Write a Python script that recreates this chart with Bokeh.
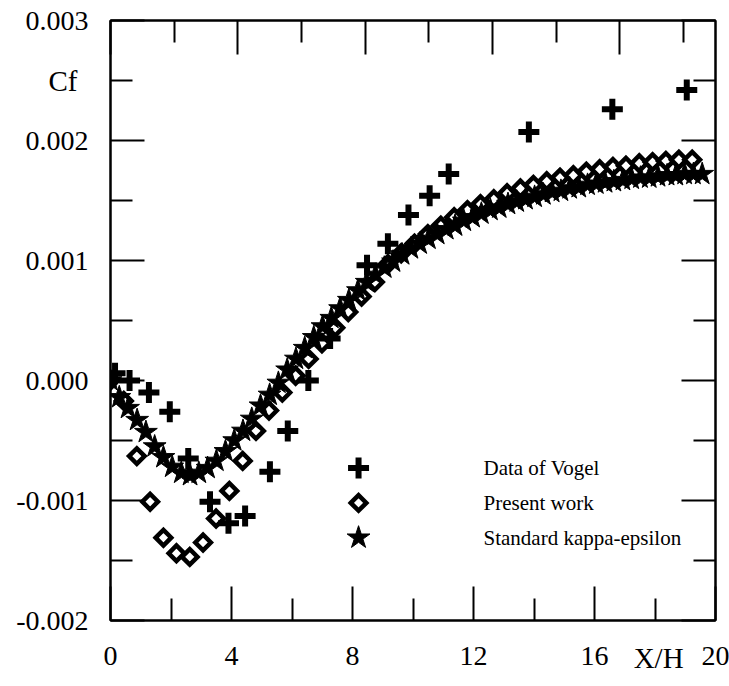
import math

from bokeh.embed import file_html
from bokeh.models import FixedTicker, Label, LinearAxis, Range1d
from bokeh.plotting import figure
from bokeh.resources import INLINE

# Skin friction coefficient Cf along the wall, X/H downstream of the step
vogel_x = [0.15, 0.63, 1.27, 1.96, 2.57, 3.29, 3.90, 4.45, 5.27, 5.86,
           6.54, 7.26, 8.48, 9.17, 9.85, 10.55, 11.18, 13.83, 16.59, 19.05]
vogel_cf = [0.00006, 0.0, -0.00010, -0.00026, -0.00065, -0.00101, -0.00119,
            -0.00113, -0.00076, -0.00042, 0.0, 0.00035, 0.00096, 0.00114,
            0.00138, 0.00154, 0.00172, 0.00207, 0.00226, 0.00242]

present_x = [0.00, 0.44, 0.87, 1.31, 1.75, 2.18, 2.62, 3.06, 3.49, 3.93,
             4.37, 4.81, 5.24, 5.68, 6.12, 6.55, 6.99, 7.43, 7.86, 8.30,
             8.74, 9.17, 9.61, 10.05, 10.49, 10.92, 11.36, 11.80, 12.23, 12.67,
             13.11, 13.55, 13.98, 14.42, 14.86, 15.30, 15.73, 16.17, 16.61, 17.04,
             17.48, 17.92, 18.36, 18.79, 19.23]
present_cf = [0.0, -0.00017, -0.00063, -0.00101, -0.00131, -0.00144, -0.00147,
              -0.00135, -0.00115, -0.00092, -0.00067, -0.00042, -0.00025,
              -0.00010, 0.00004, 0.00018, 0.00031, 0.00044, 0.00057, 0.00070,
              0.00082, 0.00097, 0.00106, 0.00114, 0.00122, 0.00129, 0.00136,
              0.00142, 0.00147, 0.00151, 0.00156, 0.00160, 0.00163, 0.00166,
              0.00169, 0.00171, 0.00174, 0.00176, 0.00178, 0.00179, 0.00181,
              0.00182, 0.00183, 0.00184, 0.00184]

keps_x = [0.00, 0.29, 0.58, 0.88, 1.17, 1.46, 1.75, 2.04, 2.34, 2.63,
          2.92, 3.21, 3.50, 3.80, 4.09, 4.38, 4.67, 4.96, 5.26, 5.55,
          5.84, 6.13, 6.42, 6.72, 7.01, 7.30, 7.59, 7.88, 8.18, 8.47,
          8.76, 9.05, 9.34, 9.64, 9.93, 10.22, 10.51, 10.80, 11.10, 11.39,
          11.68, 11.97, 12.26, 12.56, 12.85, 13.14, 13.43, 13.72, 14.02, 14.31,
          14.60, 14.89, 15.18, 15.48, 15.77, 16.06, 16.35, 16.64, 16.94, 17.23,
          17.52, 17.81, 18.10, 18.40, 18.69, 18.98, 19.27, 19.56]
keps_cf = [0.0, -0.00014, -0.00023, -0.00033, -0.00043, -0.00055, -0.00064,
           -0.00072, -0.00077, -0.00079, -0.00077, -0.00073, -0.00067,
           -0.00059, -0.00050, -0.00042, -0.00032, -0.00021, -0.00012,
           -0.00002, 0.00009, 0.00018, 0.00027, 0.00036, 0.00045, 0.00052,
           0.00060, 0.00067, 0.00075, 0.00082, 0.00088, 0.00094, 0.00099,
           0.00105, 0.00110, 0.00114, 0.00118, 0.00122, 0.00126, 0.00129,
           0.00133, 0.00136, 0.00139, 0.00142, 0.00144, 0.00147, 0.00149,
           0.00151, 0.00153, 0.00155, 0.00157, 0.00158, 0.00160, 0.00161,
           0.00163, 0.00164, 0.00165, 0.00166, 0.00167, 0.00168, 0.00169,
           0.00169, 0.00170, 0.00171, 0.00171, 0.00172, 0.00172, 0.00172]

x_ticks = [0, 4, 8, 12, 16, 20]
x_minor = [2, 6, 10, 14, 18]
x_tick_labels = ["0", "4", "8", "12", "16", "20"]
top_ticks = [0, 4, 8, 12, 16]
top_minor = [2, 6, 10, 14, 18]
y_ticks = [-0.002, -0.001, 0.0, 0.001, 0.002, 0.003]
y_minor = [-0.0015, -0.0005, 0.0005, 0.0015, 0.0025]
y_tick_labels = ["-0.002", "-0.001", "0.000", "0.001", "0.002", "0.003"]
series_names = ["Data of Vogel", "Present work", "Standard kappa-epsilon"]

# where the axis titles sit along their axes
x_title, x_title_at = "X/H", 18.12
y_title, y_title_at = "Cf", 0.0025

FONT = "Liberation Serif"

p = figure(width=729, height=686,
           x_range=Range1d(0, 20), y_range=Range1d(-0.002, 0.003),
           output_backend="svg", toolbar_location=None,
           x_axis_location=None, y_axis_location=None,
           min_border_left=110, min_border_right=14,
           min_border_top=20, min_border_bottom=66)
p.extra_x_ranges = {"top": Range1d(0, 19)}
p.grid.visible = False
p.background_fill_color = "white"
p.border_fill_color = "white"
p.outline_line_color = "black"
p.outline_line_width = 2


def frame_axis(axis, ticks, minor, labels):
    axis.ticker = FixedTicker(ticks=ticks, minor_ticks=minor)
    axis.major_label_overrides = dict(zip(ticks, labels))
    axis.axis_line_color = "black"
    axis.axis_line_width = 2
    axis.major_tick_line_color = "black"
    axis.minor_tick_line_color = "black"
    axis.major_tick_line_width = 2
    axis.minor_tick_line_width = 2
    axis.major_tick_in = 34
    axis.major_tick_out = 0
    axis.minor_tick_in = 22
    axis.minor_tick_out = 0
    axis.major_label_text_font = FONT
    axis.major_label_text_color = "black"
    axis.major_label_text_font_size = "28px"
    return axis


def title_axis(axis, at, text, standoff, pad):
    # a bare axis stacked outside the numbered one; the negative standoff
    # pulls its single label back next to the frame
    axis.ticker = FixedTicker(ticks=[at], minor_ticks=[])
    axis.major_label_overrides = {at: text}
    axis.axis_line_color = None
    axis.major_tick_line_color = None
    axis.minor_tick_line_color = None
    axis.major_tick_in = 0
    axis.major_tick_out = 0
    axis.minor_tick_in = 0
    axis.minor_tick_out = 0
    axis.major_label_standoff = standoff
    axis.major_label_text_font = FONT
    axis.major_label_text_color = "black"
    axis.major_label_text_font_size = "29px"
    axis.axis_label = " "
    axis.axis_label_standoff = pad
    axis.axis_label_text_font_size = "1px"
    return axis


bottom = frame_axis(LinearAxis(), x_ticks, x_minor, x_tick_labels)
bottom.major_label_standoff = 26
p.add_layout(bottom, "below")

left = frame_axis(LinearAxis(), y_ticks, y_minor, y_tick_labels)
left.major_label_standoff = 22
p.add_layout(left, "left")

top = frame_axis(LinearAxis(x_range_name="top"), top_ticks, top_minor,
                 [""] * len(top_ticks))
top.major_label_text_font_size = "1px"
top.major_label_standoff = 0
p.add_layout(top, "above")

right = frame_axis(LinearAxis(), y_ticks, y_minor, [""] * len(y_ticks))
right.major_label_text_font_size = "1px"
right.major_label_standoff = 0
p.add_layout(right, "right")

p.add_layout(title_axis(LinearAxis(), x_title_at, x_title, -26, 0), "below")
p.add_layout(title_axis(LinearAxis(), y_title_at, y_title, -64, 40), "left")

# the three series
p.scatter(present_x, present_cf, marker="square", angle=math.pi / 4, size=11,
          fill_color="white", line_color="black", line_width=4.5,
          line_join="miter")
p.scatter(keps_x, keps_cf, marker="star", size=24,
          fill_color="black", line_color="black", line_width=1)
p.scatter(vogel_x, vogel_cf, marker="cross", size=21,
          line_color="black", line_width=6)

# key, placed inside the plot area
LEG_MARK_X = 8.2
LEG_TEXT_X = 12.33
LEG_ROWS = [-0.00073, -0.00102, -0.00131]
p.scatter([LEG_MARK_X], [LEG_ROWS[0]], marker="cross", size=21,
          line_color="black", line_width=6)
p.scatter([LEG_MARK_X], [LEG_ROWS[1]], marker="square", angle=math.pi / 4,
          size=11, fill_color="white", line_color="black", line_width=4.5,
          line_join="miter")
p.scatter([LEG_MARK_X], [LEG_ROWS[2]], marker="star", size=24,
          fill_color="black", line_color="black", line_width=1)
for name, yrow in zip(series_names, LEG_ROWS):
    p.add_layout(Label(x=LEG_TEXT_X, y=yrow, text=name, text_font=FONT,
                       text_font_size="21px", text_color="black",
                       text_align="left", text_baseline="middle"))

open("out.html", "w").write(file_html(p, INLINE))
